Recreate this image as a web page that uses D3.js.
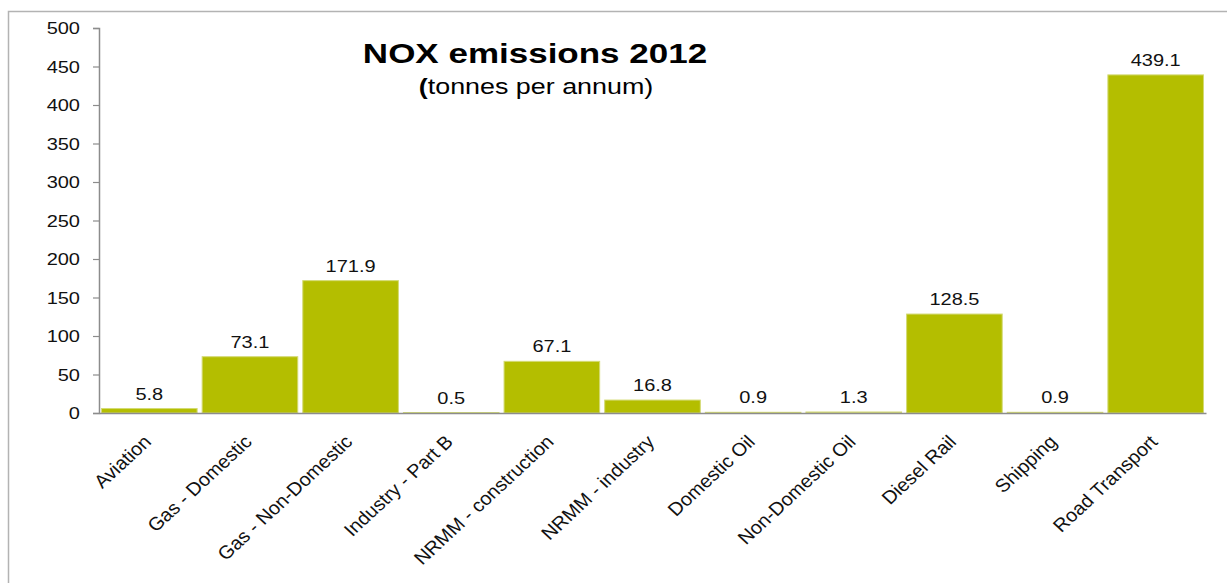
<!DOCTYPE html>
<html>
<head>
<meta charset="utf-8">
<script src="https://cdn.jsdelivr.net/npm/d3@7/dist/d3.min.js"></script>
<style>
  html, body { margin: 0; padding: 0; background: #fff; }
  svg { display: block; font-family: "Liberation Sans", Arial, sans-serif; }
</style>
</head>
<body>
<svg id="chart" width="1227" height="583"></svg>
<script>
// NOx emissions by source, 2012 (tonnes per annum)
const categories = [
  "Aviation", "Gas - Domestic", "Gas - Non-Domestic", "Industry - Part B",
  "NRMM - construction", "NRMM - industry", "Domestic Oil", "Non-Domestic Oil",
  "Diesel Rail", "Shipping", "Road Transport"
];
const values = [5.8, 73.1, 171.9, 0.5, 67.1, 16.8, 0.9, 1.3, 128.5, 0.9, 439.1];
const yTicks = [0, 50, 100, 150, 200, 250, 300, 350, 400, 450, 500];
const titleText = "NOX emissions 2012";
const subtitleText = "tonnes per annum)";

// text in this chart is drawn horizontally widened
const SX = 1.25;
const SX_LABEL = 1.08;
const barColor = "#b4be00";

const svg = d3.select("#chart");

// frame around the chart
svg.append("rect")
  .attr("x", 8.5).attr("y", 11.5)
  .attr("width", 1240).attr("height", 600)
  .attr("fill", "none").attr("stroke", "#b3b3b3").attr("stroke-width", 1.5);

const plotLeft = 99, plotRight = 1206, plotTop = 28, plotBottom = 413;

const x = d3.scaleBand().domain(categories).range([plotLeft, plotRight])
  .paddingInner(0.05).paddingOuter(0.025);
const y = d3.scaleLinear().domain([0, 500]).range([plotBottom, plotTop]);

// bars
svg.append("g").selectAll("rect")
  .data(values)
  .join("rect")
  .attr("x", (d, i) => x(categories[i]))
  .attr("y", d => y(d))
  .attr("width", x.bandwidth())
  .attr("height", d => y(0) - y(d))
  .attr("fill", barColor)
  .attr("stroke", "#d3da73")
  .attr("stroke-width", 1);

// y axis
const yAxis = svg.append("g")
  .attr("transform", `translate(${plotLeft},0)`)
  .call(d3.axisLeft(y).tickValues(yTicks).tickSize(6).tickPadding(0));
yAxis.select(".domain").attr("stroke", "#8c8c8c").attr("stroke-width", 1.5);
yAxis.selectAll(".tick line").attr("stroke", "#8c8c8c").attr("stroke-width", 1.2);
yAxis.selectAll(".tick text")
  .attr("x", null).attr("dy", "0.35em")
  .attr("transform", `translate(-19,0) scale(${SX},1)`)
  .attr("font-size", 16).attr("fill", "#111")
  .attr("font-family", "Liberation Sans, Arial, sans-serif");

// x axis line
const xAxis = svg.append("g")
  .attr("transform", `translate(0,${plotBottom})`)
  .call(d3.axisBottom(x).tickSize(0).tickFormat(""));
xAxis.select(".domain").attr("stroke", "#8c8c8c").attr("stroke-width", 1.5);

// category labels, rotated
svg.append("g").selectAll("text")
  .data(categories)
  .join("text")
  .attr("transform", d => `translate(${x(d) + x.bandwidth() / 2 + 3},${plotBottom + 30}) scale(${SX_LABEL},1) rotate(-45)`)
  .attr("text-anchor", "end")
  .attr("font-size", 18.5)
  .attr("fill", "#111")
  .text(d => d);

// value labels
svg.append("g").selectAll("text")
  .data(values)
  .join("text")
  .attr("transform", (d, i) => `translate(${x(categories[i]) + x.bandwidth() / 2},${y(d) - 9}) scale(${SX},1)`)
  .attr("text-anchor", "middle")
  .attr("font-size", 16)
  .attr("fill", "#111")
  .text(d => d3.format(".1f")(d));

// title
svg.append("text")
  .attr("transform", `translate(535,63) scale(${SX},1)`)
  .attr("text-anchor", "middle")
  .attr("font-size", 28)
  .attr("font-weight", "bold")
  .attr("fill", "#000")
  .text(titleText);

const sub = svg.append("text")
  .attr("transform", `translate(536,94) scale(${SX},1)`)
  .attr("text-anchor", "middle")
  .attr("font-size", 21.5)
  .attr("fill", "#000");
sub.append("tspan").attr("font-weight", "bold").text("(");
sub.append("tspan").text(subtitleText);
</script>
</body>
</html>
